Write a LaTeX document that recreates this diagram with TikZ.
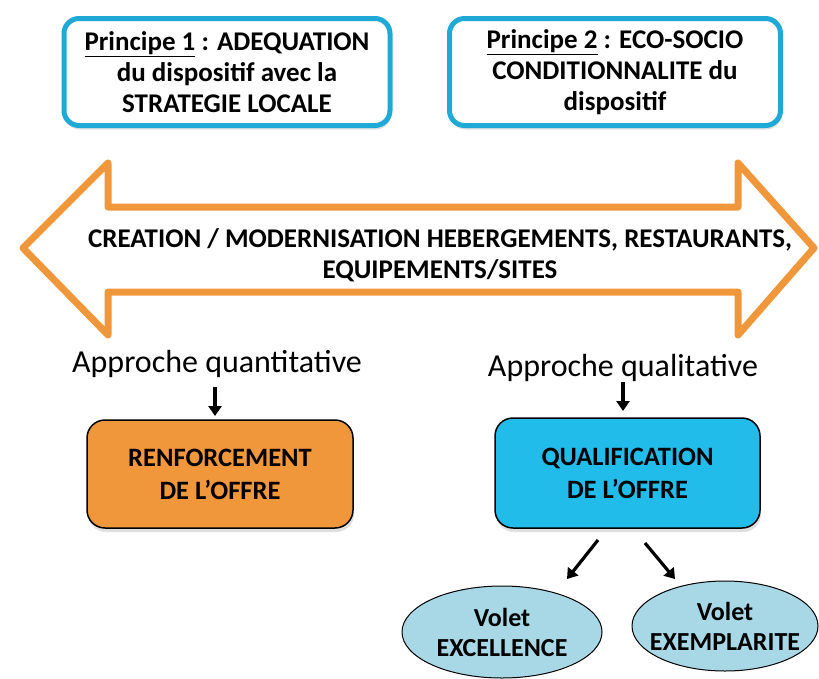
\documentclass[tikz,border=0pt]{standalone}
\usepackage{fontspec}
\setmainfont{Carlito}
\usetikzlibrary{shapes.geometric,arrows.meta,shadows}
\definecolor{cyanb}{HTML}{1EA9D7}
\definecolor{orng}{HTML}{F0963B}
\definecolor{qblue}{HTML}{22BCEB}
\definecolor{lblue}{HTML}{A8D7E6}
\tikzset{
  principle/.style={draw=cyanb, line width=5pt, rounded corners=15pt, fill=white,
    align=center, font=\fontsize{27}{31}\selectfont\bfseries,
    drop shadow={opacity=0.25, shadow xshift=1pt, shadow yshift=-4pt}},
  offer/.style={draw=black, line width=1.5pt, rounded corners=18pt, align=center,
    font=\fontsize{26.5}{33}\selectfont\bfseries,
    drop shadow={opacity=0.25, shadow xshift=1pt, shadow yshift=-4pt}},
  volet/.style={ellipse, draw=black, line width=1pt, fill=lblue, align=center,
    inner sep=-14pt, font=\fontsize{26}{30}\selectfont\bfseries},
  approche/.style={font=\fontsize{32}{34}\selectfont},
  blk/.style={line width=3.2pt, -{Triangle[length=10pt,width=13pt]}}
}
\begin{document}
\begin{tikzpicture}[x=1pt,y=-1pt]
\useasboundingbox (0,0) rectangle (819,678);
% principles
\node[principle, minimum width=326pt, minimum height=107pt] (p1) at (227,72)
  {\underline{Principe 1} : ADEQUATION\\ du dispositif avec la\\ STRATEGIE LOCALE};
\node[principle, minimum width=331pt, minimum height=107pt] (p2) at (615,72)
  {\underline{Principe 2} : ECO-SOCIO\\ CONDITIONNALITE du\\ dispositif};
% double arrow
\draw[orng, line width=7pt, line join=round, fill=white]
  (23,248) -- (108,163) -- (108,207) -- (738,207) -- (738,163) -- (814,248)
  -- (738,335) -- (738,292) -- (108,292) -- (108,335) -- cycle;
\node[align=center, font=\fontsize{27}{31}\selectfont\bfseries] (arrtxt) at (440,255)
  {CREATION / MODERNISATION HEBERGEMENTS, RESTAURANTS,\\ EQUIPEMENTS/SITES};
% approaches
\node[approche] (aq) at (217,364) {Approche quantitative};
\node[approche] (al) at (623,368) {Approche qualitative};
\node[offer, fill=orng, minimum width=266pt, minimum height=108pt] (ren) at (220,474)
  {RENFORCEMENT\\ DE L’OFFRE};
\node[offer, fill=qblue, minimum width=265pt, minimum height=110pt] (qual) at (627.5,473)
  {QUALIFICATION\\ DE L’OFFRE};
\coordinate (aqs) at (215,387);
\coordinate (aqe) at (215,416);
\coordinate (als) at (623,382);
\coordinate (ale) at (623,411);
\draw[blk] (aqs) -- (aqe);
\draw[blk] (als) -- (ale);
% volets
\node[volet, minimum width=200pt, minimum height=92pt] (exc) at (502,632)
  {Volet\\ EXCELLENCE};
\node[volet, minimum width=186pt, minimum height=90pt] (exe) at (725,626)
  {Volet\\ EXEMPLARITE};
\coordinate (l1) at (598,540);
\coordinate (l2) at (567,579);
\coordinate (r1) at (645,543);
\coordinate (r2) at (675,579);
\draw[blk] (l1) -- (l2);
\draw[blk] (r1) -- (r2);
\end{tikzpicture}
\end{document}
